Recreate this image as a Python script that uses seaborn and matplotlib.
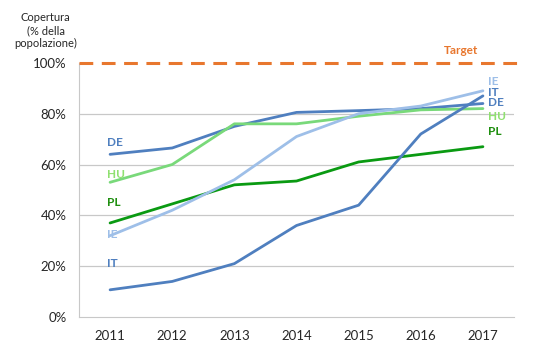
import pandas as pd
import seaborn as sns
import matplotlib.pyplot as plt

sns.set_style('white')
plt.rcParams['font.family'] = ['Lato', 'DejaVu Sans']

years = [2011, 2012, 2013, 2014, 2015, 2016, 2017]
de = [64, 66.5, 75, 80.5, 81.2, 82, 84]
hu = [53, 60, 76, 76, 79, 81.5, 82]
pl = [37, 44.5, 52, 53.5, 61, 64, 67]
ie = [32, 42, 54, 71, 80, 83, 89]
it = [10.7, 14, 21, 36, 44, 72, 87]
target = 100

countries = ['DE', 'HU', 'PL', 'IE', 'IT']
colors = {'DE': '#4f7fbf', 'HU': '#79d97a', 'PL': '#0a9a12', 'IE': '#9ebfe8', 'IT': '#4f7fbf'}
label_colors = {'DE': '#4f7fbf', 'HU': '#8fe070', 'PL': '#1f8f10', 'IE': '#9ebfe8', 'IT': '#4f7fbf'}
# altezza delle etichette (in %) a sinistra e a destra
left_lab = {'DE': 68.5, 'HU': 56, 'PL': 45, 'IE': 32.5, 'IT': 21}
right_lab = {'IE': 92.8, 'IT': 88.5, 'DE': 84.2, 'HU': 78.8, 'PL': 73}

df = pd.DataFrame({'Anno': years * 5,
                   'Valore': de + hu + pl + ie + it,
                   'Paese': [c for c in countries for _ in years]})

fig = plt.figure(figsize=(5.39, 3.57), dpi=100)
ax = fig.add_axes([0.1466, 0.112, 0.807, 0.712])

sns.lineplot(data=df, x='Anno', y='Valore', hue='Paese', palette=colors,
             linewidth=2, legend=False, ax=ax)

ax.set_xlim(2010.5, 2017.5)
ax.set_ylim(0, 100)
ax.set_xticks(years)
ax.set_xticklabels([str(y) for y in years], fontsize=9.5)
ax.set_yticks([0, 20, 40, 60, 80, 100])
ax.set_yticklabels([f'{v}%' for v in [0, 20, 40, 60, 80, 100]], fontsize=9.5)
ax.tick_params(axis='both', length=0, pad=9)
ax.set_xlabel('')
ax.set_ylabel('')
for yv in [20, 40, 60, 80]:
    ax.axhline(yv, color='#c8c8c8', lw=0.9, zorder=0)
sns.despine(ax=ax, top=True, right=True)
ax.spines['left'].set_color('#c8c8c8')
ax.spines['bottom'].set_color('#c8c8c8')

ax.axhline(target, xmin=0, xmax=1.02, color='#e8772e', lw=2.2, ls=(0, (4.5, 2.8)),
           clip_on=False, zorder=3)
ax.text(2016.65, target + 5, 'Target', color='#e8772e', fontsize=8.5,
        fontweight='bold', ha='center', va='center')

for c in countries:
    ax.text(years[0] - 0.05, left_lab[c], c, color=label_colors[c], fontsize=8.5,
            fontweight='bold', ha='left', va='center')
    ax.text(years[-1] + 0.08, right_lab[c], c, color=label_colors[c], fontsize=8.5,
            fontweight='bold', ha='left', va='center')

fig.text(0.085, 0.915, 'Copertura\n(% della\npopolazione)', ha='center', va='center',
         fontsize=8, linespacing=1.25)

fig.savefig('out.png', dpi=100)
